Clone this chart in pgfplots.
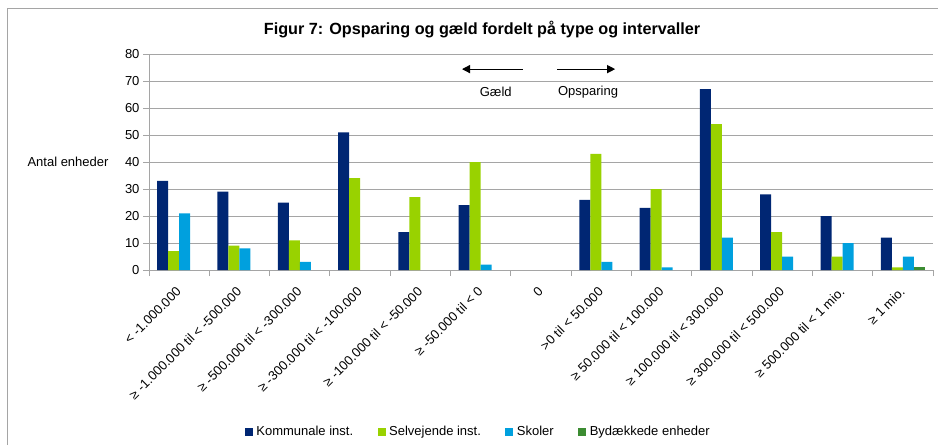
\documentclass[border=0pt]{standalone}
\usepackage{fontspec}
\setmainfont{Liberation Sans}
\usepackage{pgfplots}
\pgfplotsset{compat=1.18}
\usetikzlibrary{arrows.meta}
\definecolor{navy}{RGB}{0,38,115}
\definecolor{lgreen}{RGB}{153,210,0}
\definecolor{cyanb}{RGB}{0,160,222}
\definecolor{dgreen}{RGB}{60,140,50}
\definecolor{gridg}{RGB}{165,165,165}
\newcommand\fs{\fontsize{13}{15}\selectfont}
\begin{document}
\begin{tikzpicture}[x=1pt,y=1pt]
\useasboundingbox (0,0) rectangle (938,445);
\draw[gridg, line width=1pt] (7,0) -- (7,436) -- (938,436);
\node[font=\fontsize{16.2}{18}\selectfont\bfseries] at (482,415) {Figur 7: Opsparing og gæld fordelt på type og intervaller};
\node[font=\fs] at (68,283) {Antal enheder};
\begin{axis}[
  at={(149pt,175pt)}, anchor=south west,
  scale only axis, width=784pt, height=216pt,
  xmin=-0.5, xmax=12.5, ymin=0, ymax=80,
  ybar=0pt, bar width=11pt,
  axis lines*=left,
  axis line style={gridg, line width=1pt, -},
  tick style={gridg, line width=1pt},
  tick align=outside, major tick length=6pt,
  xtick pos=bottom, ytick pos=left,
  ytick={0,10,...,80},
  ymajorgrids, grid style={gridg, line width=1pt},
  /pgf/number format/assume math mode=true,
  yticklabel style={font=\fs},
  xtick={-0.5,0.5,...,12.5},
  x tick label as interval,
  xticklabels={{< -1.000.000},{≥ -1.000.000 til < -500.000},{≥ -500.000 til < -300.000},{≥ -300.000 til < -100.000},{≥ -100.000 til < -50.000},{≥ -50.000 til < 0},{0},{>0 til < 50.000},{≥ 50.000 til < 100.000},{≥ 100.000 til < 300.000},{≥ 300.000 til < 500.000},{≥ 500.000 til < 1 mio.},{≥ 1 mio.}},
  xticklabel style={font=\fs, xshift=2pt, yshift=-11pt, rotate=45, anchor=east},
  legend image code/.code={\fill[#1] (0pt,-4pt) rectangle (8pt,4pt);},
  legend style={at={(0.421,-0.75)}, anchor=center, draw=none, font=\fs,
    nodes={inner xsep=3.5pt},
    /tikz/every even column/.append style={column sep=21pt}},
  legend columns=4,
]
\addplot[fill=navy, draw=none] coordinates {(0,33) (1,29) (2,25) (3,51) (4,14) (5,24) (7,26) (8,23) (9,67) (10,28) (11,20) (12,12)};
\addplot[fill=lgreen, draw=none] coordinates {(0,7) (1,9) (2,11) (3,34) (4,27) (5,40) (7,43) (8,30) (9,54) (10,14) (11,5) (12,1)};
\addplot[fill=cyanb, draw=none] coordinates {(0,21) (1,8) (2,3) (5,2) (7,3) (8,1) (9,12) (10,5) (11,10) (12,5)};
\addplot[fill=dgreen, draw=none] coordinates {(12,1)};
\legend{Kommunale inst.,Selvejende inst.,Skoler,Bydækkede enheder}
\draw[-{Triangle[length=8pt,width=8pt]}, line width=1.2pt] (axis cs:5.70,74.4) -- (axis cs:4.69,74.4);
\draw[-{Triangle[length=8pt,width=8pt]}, line width=1.2pt] (axis cs:6.27,74.4) -- (axis cs:7.23,74.4);
\node[font=\fs] at (axis cs:5.25,65.9) {Gæld};
\node[font=\fs] at (axis cs:6.78,65.9) {Opsparing};
\end{axis}
\end{tikzpicture}
\end{document}
